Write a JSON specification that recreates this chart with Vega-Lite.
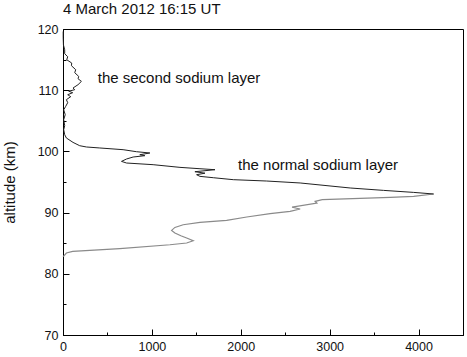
{
  "$schema": "https://vega.github.io/schema/vega-lite/v6.json",
  "autosize": {"type": "none"},
  "padding": {"left": 63, "top": 29, "right": 4, "bottom": 22},
  "width": 400,
  "height": 306,
  "background": "white",
  "title": {"text": "4 March 2012 16:15 UT", "anchor": "start", "frame": "group", "offset": 6, "font": "Liberation Sans", "fontSize": 15, "fontWeight": "normal", "color": "#111"},
  "config": {
    "view": {"stroke": "#000", "strokeWidth": 1},
    "font": "Liberation Sans",
    "axis": {"domainColor": "#000", "tickColor": "#000", "labelColor": "#111", "titleColor": "#111", "labelFont": "Liberation Sans", "titleFont": "Liberation Sans", "grid": false, "labelFontSize": 12.5, "titleFontWeight": "normal"}
  },
  "datasets": {
    "profile": [
      {"alt": 82.8, "na": 0},
      {"alt": 82.9, "na": 8},
      {"alt": 83.4, "na": 38},
      {"alt": 83.66, "na": 109},
      {"alt": 84.1, "na": 639},
      {"alt": 84.75, "na": 1203},
      {"alt": 85.03, "na": 1391},
      {"alt": 85.41, "na": 1465},
      {"alt": 85.85, "na": 1391},
      {"alt": 86.22, "na": 1326},
      {"alt": 86.67, "na": 1259},
      {"alt": 87.09, "na": 1222},
      {"alt": 87.58, "na": 1259},
      {"alt": 88.02, "na": 1352},
      {"alt": 88.4, "na": 1541},
      {"alt": 88.73, "na": 1841},
      {"alt": 89.28, "na": 2067},
      {"alt": 89.82, "na": 2330},
      {"alt": 90.2, "na": 2555},
      {"alt": 90.59, "na": 2668},
      {"alt": 90.88, "na": 2577},
      {"alt": 91.57, "na": 2856},
      {"alt": 91.83, "na": 2837},
      {"alt": 92.11, "na": 2916},
      {"alt": 92.48, "na": 3682},
      {"alt": 92.65, "na": 3945},
      {"alt": 93.04, "na": 4170},
      {"alt": 93.3, "na": 3945},
      {"alt": 93.63, "na": 3606},
      {"alt": 94.02, "na": 3231},
      {"alt": 94.84, "na": 2668},
      {"alt": 95.16, "na": 2292},
      {"alt": 95.38, "na": 1916},
      {"alt": 95.7, "na": 1691},
      {"alt": 95.92, "na": 1541},
      {"alt": 96.19, "na": 1503},
      {"alt": 96.44, "na": 1597},
      {"alt": 96.68, "na": 1484},
      {"alt": 97.01, "na": 1710},
      {"alt": 97.17, "na": 1541},
      {"alt": 97.39, "na": 1316},
      {"alt": 97.83, "na": 1014},
      {"alt": 98.1, "na": 715},
      {"alt": 98.37, "na": 658},
      {"alt": 98.76, "na": 715},
      {"alt": 99.08, "na": 789},
      {"alt": 99.3, "na": 921},
      {"alt": 99.46, "na": 864},
      {"alt": 99.74, "na": 977},
      {"alt": 99.95, "na": 827},
      {"alt": 100.28, "na": 676},
      {"alt": 100.56, "na": 414},
      {"alt": 100.72, "na": 264},
      {"alt": 100.93, "na": 188},
      {"alt": 101.47, "na": 113},
      {"alt": 102.19, "na": 38},
      {"alt": 102.73, "na": 19},
      {"alt": 103.55, "na": 8},
      {"alt": 104.2, "na": 19},
      {"alt": 105.2, "na": 8},
      {"alt": 106.0, "na": 25},
      {"alt": 106.8, "na": 8},
      {"alt": 107.35, "na": 30},
      {"alt": 107.96, "na": 53},
      {"alt": 108.45, "na": 38},
      {"alt": 108.94, "na": 87},
      {"alt": 109.26, "na": 53},
      {"alt": 109.59, "na": 109},
      {"alt": 109.84, "na": 64},
      {"alt": 110.08, "na": 132},
      {"alt": 110.36, "na": 113},
      {"alt": 110.9, "na": 169},
      {"alt": 111.44, "na": 207},
      {"alt": 111.88, "na": 169},
      {"alt": 112.25, "na": 177},
      {"alt": 112.86, "na": 132},
      {"alt": 113.35, "na": 143},
      {"alt": 114.0, "na": 95},
      {"alt": 114.44, "na": 98},
      {"alt": 114.98, "na": 42},
      {"alt": 115.47, "na": 53},
      {"alt": 115.96, "na": 19},
      {"alt": 116.6, "na": 19},
      {"alt": 117.4, "na": 5},
      {"alt": 118.6, "na": 2},
      {"alt": 119.6, "na": 2}
    ],
    "labels": [
      {"na": 391, "alt": 112.0, "label": "the second sodium layer"},
      {"na": 1969, "alt": 97.8, "label": "the normal sodium layer"}
    ]
  },
  "encoding": {
    "x": {"field": "na", "type": "quantitative", "scale": {"domain": [0, 4500], "nice": false},
      "axis": {"title": null, "values": [0, 500, 1000, 1500, 2000, 2500, 3000, 3500, 4000, 4500], "labelExpr": "datum.value % 1000 === 0 ? datum.label : ''",
        "tickSize": {"condition": {"test": "datum.value % 1000 === 0", "value": -6}, "value": -3}, "labelPadding": 11, "labelFlush": false, "format": "d"}},
    "y": {"field": "alt", "type": "quantitative", "scale": {"domain": [70, 120], "nice": false, "zero": false},
      "axis": {"title": "altitude (km)", "titleFontSize": 15, "titlePadding": 20, "values": [70, 75, 80, 85, 90, 95, 100, 105, 110, 115, 120], "labelExpr": "datum.value % 10 === 0 ? datum.label : ''",
        "tickSize": {"condition": {"test": "datum.value % 10 === 0", "value": -6}, "value": -3}, "labelPadding": 11}}
  },
  "layer": [
    {
      "data": {"name": "profile"},
      "transform": [{"filter": "datum.alt <= 93.04"}],
      "mark": {"type": "line", "color": "#8a8a8a", "strokeWidth": 1.2},
      "encoding": {"order": {"field": "alt", "type": "quantitative"}}
    },
    {
      "data": {"name": "profile"},
      "transform": [{"filter": "datum.alt >= 93.04"}],
      "mark": {"type": "line", "color": "#222", "strokeWidth": 1},
      "encoding": {"order": {"field": "alt", "type": "quantitative"}}
    },
    {
      "data": {"name": "labels"},
      "mark": {"type": "text", "align": "left", "baseline": "middle", "fontSize": 15, "font": "Liberation Sans", "color": "#111"},
      "encoding": {"text": {"field": "label"}}
    }
  ]
}
